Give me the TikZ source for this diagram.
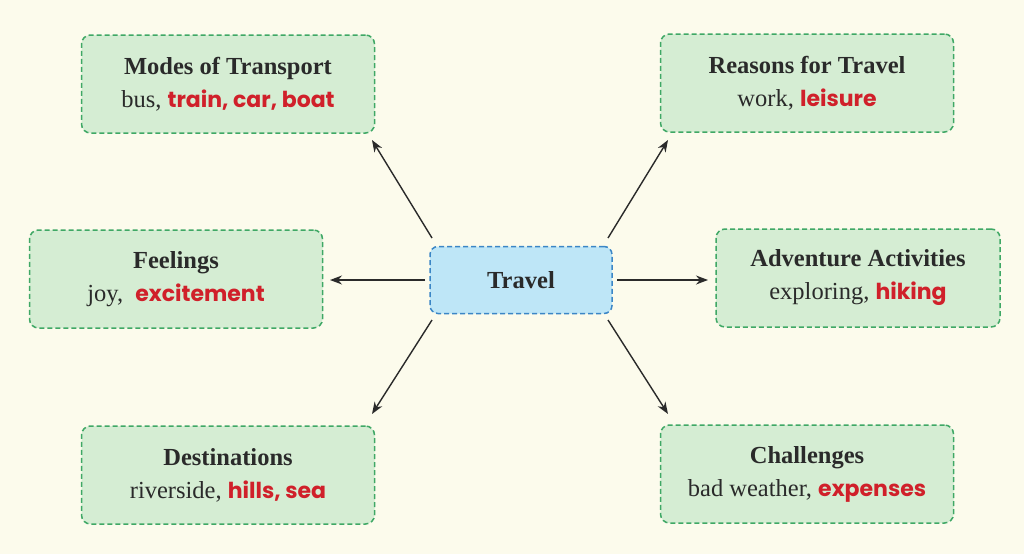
\documentclass[tikz,border=0pt]{standalone}
\usepackage{fontspec}
\setmainfont{Liberation Serif}
\newfontfamily\pop{Poppins}
\usetikzlibrary{arrows.meta}
\definecolor{bg}{HTML}{FCFBEC}
\definecolor{gfill}{HTML}{D5EDD3}
\definecolor{gline}{HTML}{3FA865}
\definecolor{bfill}{HTML}{BEE6F7}
\definecolor{bline}{HTML}{3B86C6}
\definecolor{redw}{HTML}{D0202A}
\definecolor{txt}{HTML}{2A2A2A}
\tikzset{
 catbox/.style={draw=gline,fill=gfill,dash pattern=on 5pt off 3pt,line width=1.5pt,rounded corners=9pt,minimum width=293pt,minimum height=98pt,align=center,text=txt,font=\fontsize{24.5}{33}\selectfont},
 hubbox/.style={draw=bline,fill=bfill,dash pattern=on 5pt off 3pt,line width=1.5pt,rounded corners=8pt,minimum width=182pt,minimum height=67pt,text=txt,font=\fontsize{24.5}{30}\selectfont\bfseries},
 conn/.style={-{Stealth[length=12pt,width=9pt]},line width=1.4pt,draw=txt},
}
\newcommand{\rw}[1]{{\pop\bfseries\fontsize{22}{33}\selectfont\color{redw}#1}}
\begin{document}
\begin{tikzpicture}[x=1pt,y=-1pt]
\useasboundingbox[fill=bg] (0,0) rectangle (1024,554);
\node[hubbox] (hub) at (521,280) {Travel};
\node[catbox] (mt) at (228,84) {\textbf{Modes of Transport}\\bus, \rw{train, car, boat}};
\node[catbox] (rt) at (807,83) {\textbf{Reasons for Travel}\\work, \rw{leisure}};
\node[catbox] (fe) at (176,279) {\textbf{Feelings}\\joy,\ \ \rw{excitement}};
\node[catbox,minimum width=284pt] (ad) at (858,278) {\textbf{Adventure Activities}\\exploring,\ \rw{hiking}};
\node[catbox] (de) at (228,475) {\textbf{Destinations}\\riverside, \rw{hills, sea}};
\node[catbox] (ch) at (807,474) {\textbf{Challenges}\\bad weather, \rw{expenses}};
\coordinate (h1) at (432,238); \coordinate (h2) at (608,238);
\coordinate (h3) at (425,280); \coordinate (h4) at (617,280);
\coordinate (h5) at (432,320); \coordinate (h6) at (608,320);
\coordinate (t1) at (372,140); \coordinate (t2) at (668,140);
\coordinate (t3) at (330,280); \coordinate (t4) at (708,280);
\coordinate (t5) at (372,414); \coordinate (t6) at (668,414);
\foreach \i in {1,...,6} \draw[conn] (h\i) -- (t\i);
\end{tikzpicture}
\end{document}
